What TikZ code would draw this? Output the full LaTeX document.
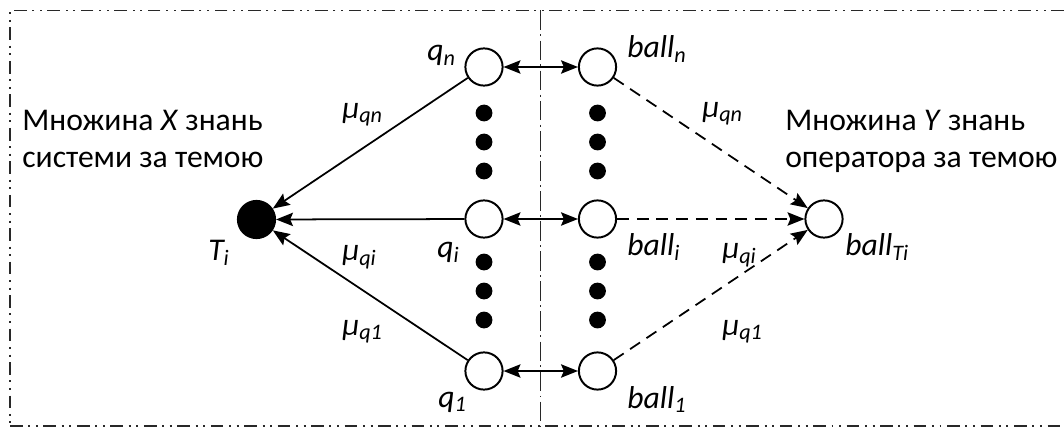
\documentclass[tikz,border=0pt]{standalone}
\usepackage{fontspec}
\setmainfont{Carlito}
\usepackage{tikz}
\usetikzlibrary{arrows.meta, positioning, calc}
\definecolor{framegray}{RGB}{40,40,40}

\begin{document}
\begin{tikzpicture}[x=0.025cm, y=-0.025cm,
  knot/.style={draw, circle, line width=1.4pt, minimum size=0.93cm, inner sep=0pt},
  topic/.style={knot, fill=black},
  ellipsisdot/.style={circle, fill=black, minimum size=0.42cm, inner sep=0pt},
  lbl/.style={inner sep=0pt, font=\fontsize{22.5}{26}\selectfont\itshape},
  note/.style={inner sep=0pt, align=left, font=\fontsize{22.5}{26.3}\selectfont},
  oneway/.style={-{Stealth[length=12pt, width=9.5pt, inset=2pt]}, line width=1.25pt},
  twoway/.style={{Stealth[length=12pt, width=9.5pt, inset=2pt]}-{Stealth[length=12pt, width=9.5pt, inset=2pt]}, line width=1.25pt},
  guess/.style={oneway, dash pattern=on 8.5pt off 5.5pt},
  borderline/.style={line width=1pt, framegray, dash pattern=on 9pt off 4pt on 1.4pt off 4pt on 1.4pt off 4pt},
  divider/.style={line width=1pt, framegray, dash pattern=on 14pt off 3pt on 1.4pt off 3pt}]
  \useasboundingbox (0,0) rectangle (1064,427);

  % frame and divider
  \draw[borderline] (1064,10.5) -- (10,10.5) -- (10,426);
  \draw[borderline] (10,426) -- (1064,426);
  \draw[divider] (540.5,10.5) -- (540.5,427);

  % nodes
  \node[topic] (T) at (256.5,219.5) {};
  \node[knot] (qn) at (484,67) {};
  \node[knot] (qi) at (484,219) {};
  \node[knot] (q1) at (484,371) {};
  \node[knot] (bn) at (597.5,67) {};
  \node[knot] (bi) at (597.5,219) {};
  \node[knot] (b1) at (597.5,371) {};
  \node[knot] (bT) at (824,219) {};
  \foreach \y [count=\k] in {113,142,171,262,291,320} {
    \node[ellipsisdot] (qd\k) at (484,\y) {};
    \node[ellipsisdot] (bd\k) at (597.5,\y) {};
  }

  % texts
  \node[note, anchor=north west] (setX) at (22,110) {Множина \textit{X} знань\\системи за темою};
  \node[note, anchor=north west] (setY) at (785,110) {Множина \textit{Y} знань\\оператора за темою};

  \node[lbl, anchor=base east] (lqn) at (456,61) {q\textsubscript{n}};
  \node[lbl, anchor=base west] (lqi) at (437,257) {q\textsubscript{i}};
  \node[lbl, anchor=base west] (lq1) at (438,407) {q\textsubscript{1}};
  \node[lbl, anchor=base west] (lT) at (208,260) {T\textsubscript{i}};
  \node[lbl, anchor=base west] (lbn) at (627,58) {ball\textsubscript{n}};
  \node[lbl, anchor=base west] (lbi) at (627,255) {ball\textsubscript{i}};
  \node[lbl, anchor=base west] (lb1) at (627,408) {ball\textsubscript{1}};
  \node[lbl, anchor=base west] (lbT) at (845,255) {ball\textsubscript{Ti}};
  \node[lbl, anchor=base west] (mqn) at (342,118) {μ\textsubscript{qn}};
  \node[lbl, anchor=base west] (mqi) at (342,260) {μ\textsubscript{qi}};
  \node[lbl, anchor=base west] (mq1) at (342,335) {μ\textsubscript{q1}};
  \node[lbl, anchor=base west] (nqn) at (702,117) {μ\textsubscript{qn}};
  \node[lbl, anchor=base west] (nqi) at (722,258) {μ\textsubscript{qi}};
  \node[lbl, anchor=base west] (nq1) at (722,335) {μ\textsubscript{q1}};

  % connectors
  \draw[oneway] (qn) -- (T);
  \draw[oneway] (qi) -- (T);
  \draw[oneway] (q1) -- (T);
  \draw[twoway] (qn) -- (bn);
  \draw[twoway] (qi) -- (bi);
  \draw[twoway] (q1) -- (b1);
  \draw[guess] (bn) -- (bT);
  \draw[guess] (bi) -- (bT);
  \draw[guess] (b1) -- (bT);
\end{tikzpicture}
\end{document}
